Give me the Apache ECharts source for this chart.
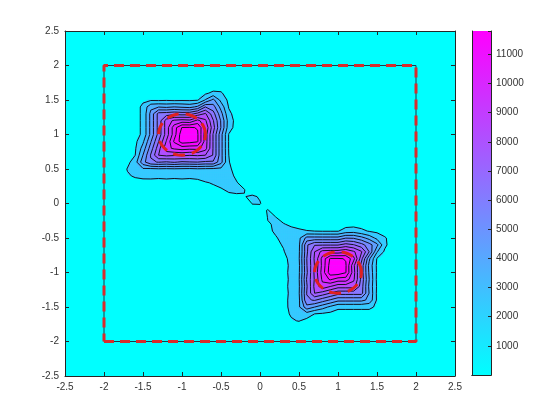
<!DOCTYPE html>
<html>
<head>
<meta charset="utf-8">
<script src="https://cdn.jsdelivr.net/npm/echarts@6/dist/echarts.min.js"></script>
<style>
html, body { margin: 0; padding: 0; background: #fff; }
#main { width: 560px; height: 420px; }
</style>
</head>
<body>
<div id="main"></div>
<script>
// density nodes every 0.1 on [-2, 2]
const STEP = 0.1;

// upper-left peak, x from -1.8 to -0.1, rows from y = 1.7 down to y = 0.1
const upperX0 = -1.8, upperYTop = 1.7;
const upperBlob = [
  [0, 0, 0, 0, 0, 0, 0, 0, 0, 0, 0, 0, 370, 590, 390, 50, 0, 0],
  [0, 220, 310, 310, 310, 310, 310, 310, 310, 310, 390, 800, 1250, 1100, 570, 230, 0, 0],
  [0, 220, 630, 840, 860, 820, 880, 800, 850, 830, 920, 2080, 3280, 1700, 780, 390, 0, 0],
  [0, 220, 630, 1200, 2750, 2950, 2800, 3000, 2850, 2700, 3200, 4990, 4420, 2630, 930, 510, 80, 0],
  [0, 220, 630, 1200, 3290, 5370, 5500, 5700, 5550, 5650, 6340, 7140, 5410, 3360, 1220, 600, 140, 0],
  [0, 220, 630, 1200, 3290, 5370, 7460, 8200, 8400, 8250, 9350, 8170, 6080, 3900, 1550, 630, 150, 0],
  [0, 220, 630, 1200, 3290, 5370, 7460, 9540, 11050, 11100, 10940, 8800, 6410, 3960, 1440, 590, 80, 0],
  [0, 220, 630, 1200, 3290, 5370, 7460, 9540, 11620, 11800, 11110, 8520, 5930, 3340, 950, 440, 0, 0],
  [0, 340, 750, 1810, 3900, 5980, 8070, 10150, 11520, 11400, 11110, 8520, 5930, 3340, 950, 440, 0, 0],
  [50, 460, 870, 2410, 4490, 6580, 8660, 9200, 9450, 9300, 9350, 8400, 5930, 3340, 950, 440, 0, 0],
  [170, 580, 990, 3020, 5100, 7000, 7250, 7100, 7200, 7050, 7150, 7000, 5930, 3340, 1000, 440, 0, 0],
  [290, 700, 1550, 3630, 4850, 5050, 4900, 5100, 4850, 4950, 5000, 4800, 4850, 3340, 1050, 500, 100, 0],
  [410, 1050, 1700, 1850, 1800, 1900, 1850, 1900, 1850, 1800, 1900, 1850, 1800, 1750, 1150, 700, 100, 0],
  [300, 900, 1100, 1150, 1200, 1150, 1200, 1150, 1200, 1150, 1200, 1300, 1350, 1350, 1250, 850, 400, 0],
  [100, 500, 700, 800, 750, 750, 750, 750, 750, 750, 800, 950, 1050, 1150, 1200, 1050, 700, 200],
  [0, 100, 300, 400, 450, 500, 550, 600, 650, 700, 750, 800, 850, 950, 1080, 1080, 1020, 700],
  [0, 0, 0, 100, 200, 300, 400, 450, 500, 550, 600, 650, 700, 800, 880, 940, 980, 1080]
];

// lower-right peak, x from 0.1 to 1.7, rows from y = -0.1 down to y = -1.8
const lowerX0 = 0.1, lowerYTop = -0.1;
const lowerBlob = [
  [1040, 700, 200, 0, 0, 0, 0, 0, 0, 0, 0, 0, 0, 0, 0, 0, 0],
  [1050, 1020, 700, 400, 100, 100, 0, 0, 0, 0, 80, 150, 140, 80, 0, 0, 0],
  [940, 1080, 1050, 850, 700, 500, 440, 440, 440, 440, 590, 630, 600, 510, 390, 230, 50],
  [880, 1080, 1200, 1250, 1150, 1050, 1000, 950, 950, 950, 1440, 1550, 1220, 930, 780, 570, 390],
  [800, 950, 1150, 1350, 1750, 3340, 3340, 3340, 3340, 3340, 3960, 3900, 3360, 2630, 1700, 1100, 590],
  [700, 850, 1050, 1350, 1800, 4850, 5930, 5930, 5930, 5930, 6410, 6080, 5410, 4420, 3280, 1250, 370],
  [650, 800, 950, 1300, 1850, 4800, 7000, 8400, 8520, 8520, 8800, 8170, 7140, 4990, 2080, 800, 0],
  [600, 750, 800, 1200, 1900, 5000, 7150, 9350, 11110, 11110, 10940, 9350, 6340, 3200, 920, 390, 0],
  [550, 700, 750, 1150, 1800, 4950, 7050, 9300, 11400, 11800, 11100, 8250, 5650, 2700, 830, 310, 0],
  [500, 650, 750, 1200, 1850, 4850, 7200, 9450, 11520, 11620, 11050, 8400, 5550, 2850, 850, 310, 0],
  [450, 600, 750, 1150, 1900, 5100, 7100, 9200, 10150, 9540, 9540, 8200, 5700, 3000, 800, 310, 0],
  [400, 550, 750, 1200, 1850, 4900, 7250, 8660, 8070, 7460, 7460, 7460, 5500, 2800, 880, 310, 0],
  [300, 500, 750, 1150, 1900, 5050, 7000, 6580, 5980, 5370, 5370, 5370, 5370, 2950, 820, 310, 0],
  [200, 450, 750, 1200, 1800, 4850, 5100, 4490, 3900, 3290, 3290, 3290, 3290, 2750, 860, 310, 0],
  [100, 400, 800, 1150, 1850, 3630, 3020, 2410, 1810, 1200, 1200, 1200, 1200, 1200, 840, 310, 0],
  [0, 300, 700, 1100, 1700, 1550, 990, 870, 750, 630, 630, 630, 630, 630, 630, 310, 0],
  [0, 100, 500, 900, 1050, 700, 580, 460, 340, 220, 220, 220, 220, 220, 220, 220, 0],
  [0, 0, 100, 300, 410, 290, 170, 50, 0, 0, 0, 0, 0, 0, 0, 0, 0]
];

// small island between the peaks, x from -0.1 to 0.1, rows from y = 0.1 down to y = -0.1
const bridgeX0 = -0.1, bridgeYTop = 0.1;
const bridge = [
  [0, 950, 400],
  [1050, 1030, 700],
  [500, 800, 0]
];

const contourLevels = [1000, 2000, 3000, 4000, 5000, 6000, 7000, 8000, 9000, 10000, 11000];
const colorMax = 11800;

// dashed square and the two rings
const boxX = [-2, 2, 2, -2, -2];
const boxY = [-2, -2, 2, 2, -2];
const ringX = [-1, 1];
const ringY = [1, -1];
const ringR = [0.3, 0.3];

// ---- build the node grid ----
const N = 41;
const G = [];
for (let i = 0; i < N; i++) G.push(new Array(N).fill(0));
function addPatch(rows, x0, yTop) {
  rows.forEach(function (row, r) {
    row.forEach(function (v, c) {
      const i = Math.round((yTop - r * STEP + 2) / STEP);
      const j = Math.round((x0 + c * STEP + 2) / STEP);
      G[i][j] += v;
    });
  });
}
addPatch(upperBlob, upperX0, upperYTop);
addPatch(lowerBlob, lowerX0, lowerYTop);
addPatch(bridge, bridgeX0, bridgeYTop);

function sample(x, y) {
  const fx = (x + 2) / STEP, fy = (y + 2) / STEP;
  if (fx < 0 || fy < 0 || fx > N - 1 || fy > N - 1) return 0;
  const j = Math.min(N - 2, Math.floor(fx)), i = Math.min(N - 2, Math.floor(fy));
  const tx = fx - j, ty = fy - i;
  return (G[i][j] * (1 - tx) + G[i][j + 1] * tx) * (1 - ty) +
         (G[i + 1][j] * (1 - tx) + G[i + 1][j + 1] * tx) * ty;
}

// filled bands: each band takes a tone a little above its upper level
function bandTone(v) {
  let k = 0;
  contourLevels.forEach(function (lv) { if (v >= lv) k++; });
  if (k === 0) return 0;
  return k < contourLevels.length ? contourLevels[k] + 500 : colorMax;
}

const CELLS = 200;
const cellIdx = [];
for (let k = 0; k < CELLS; k++) cellIdx.push(k);
const heatData = [];
for (let a = 0; a < CELLS; a++) {
  for (let b = 0; b < CELLS; b++) {
    const x = -2.5 + (a + 0.5) * 5 / CELLS;
    const y = -2.5 + (b + 0.5) * 5 / CELLS;
    const tone = bandTone(sample(x, y));
    if (tone > 0) heatData.push([a, b, tone]);
  }
}

// ---- marching squares ----
function traceLevel(level) {
  const pt = {};
  const segs = [];
  function cross(key, x1, y1, v1, x2, y2, v2) {
    const t = (level - v1) / (v2 - v1);
    pt[key] = [x1 + (x2 - x1) * t, y1 + (y2 - y1) * t];
    return key;
  }
  for (let i = 0; i < N - 1; i++) {
    for (let j = 0; j < N - 1; j++) {
      const a = G[i][j], b = G[i][j + 1], c = G[i + 1][j + 1], d = G[i + 1][j];
      const ha = a >= level, hb = b >= level, hc = c >= level, hd = d >= level;
      if (ha === hb && hb === hc && hc === hd) continue;
      const x0 = -2 + j * STEP, x1 = x0 + STEP, y0 = -2 + i * STEP, y1 = y0 + STEP;
      const bottom = ha !== hb ? cross('h' + i + '_' + j, x0, y0, a, x1, y0, b) : null;
      const right = hb !== hc ? cross('v' + i + '_' + (j + 1), x1, y0, b, x1, y1, c) : null;
      const top = hd !== hc ? cross('h' + (i + 1) + '_' + j, x0, y1, d, x1, y1, c) : null;
      const left = ha !== hd ? cross('v' + i + '_' + j, x0, y0, a, x0, y1, d) : null;
      const list = [bottom, right, top, left].filter(function (e) { return e !== null; });
      if (list.length === 2) {
        segs.push(list);
      } else if (list.length === 4) {
        const centreHigh = (a + b + c + d) / 4 >= level;
        if (ha === centreHigh) {
          segs.push([bottom, right]); segs.push([top, left]);
        } else {
          segs.push([left, bottom]); segs.push([right, top]);
        }
      }
    }
  }
  // join segments into polylines
  const adj = {};
  segs.forEach(function (s, k) {
    s.forEach(function (key) { (adj[key] = adj[key] || []).push(k); });
  });
  const used = new Array(segs.length).fill(false);
  const chains = [];
  for (let k = 0; k < segs.length; k++) {
    if (used[k]) continue;
    used[k] = true;
    const keys = [segs[k][0], segs[k][1]];
    const extend = function () {
      while (true) {
        const last = keys[keys.length - 1];
        const next = (adj[last] || []).find(function (n) { return !used[n]; });
        if (next === undefined) break;
        used[next] = true;
        const s = segs[next];
        keys.push(s[0] === last ? s[1] : s[0]);
      }
    };
    extend();
    keys.reverse();
    extend();
    chains.push(keys.map(function (key) { return pt[key]; }));
  }
  return chains;
}

let contourChains = [];
contourLevels.forEach(function (lv) { contourChains = contourChains.concat(traceLevel(lv)); });
const contourItems = contourChains.map(function (c, k) { return [c[0][0], c[0][1], k]; });

const labelFont = "'Liberation Sans', Arial, sans-serif";
const axisColor = '#262626';

function valueAxis(grid, pos, showLabel) {
  return {
    type: 'value', gridIndex: grid, position: pos,
    min: -2.5, max: 2.5, interval: 0.5,
    axisLine: { show: true, onZero: false, lineStyle: { color: axisColor, width: 1 } },
    axisTick: { show: true, inside: true, length: 4, lineStyle: { color: axisColor } },
    axisLabel: { show: showLabel, color: '#333', fontSize: 10, fontFamily: labelFont, margin: 6 },
    splitLine: { show: false },
    z: 10
  };
}

const option = {
  animation: false,
  backgroundColor: '#ffffff',
  grid: [
    { left: 65, top: 31, width: 390, height: 345, show: true, backgroundColor: '#00ffff', borderWidth: 0 },
    { left: 65, top: 31, width: 390, height: 345 },
    { left: 472, top: 31, width: 19, height: 344 }
  ],
  xAxis: [
    { type: 'category', gridIndex: 0, data: cellIdx, show: false },
    valueAxis(1, 'bottom', true),
    valueAxis(1, 'top', false),
    { type: 'category', gridIndex: 2, data: ['c'], position: 'bottom',
      axisLine: { show: true, lineStyle: { color: axisColor } }, axisTick: { show: false }, axisLabel: { show: false }, z: 10 },
    { type: 'category', gridIndex: 2, data: ['c'], position: 'top',
      axisLine: { show: true, lineStyle: { color: axisColor } }, axisTick: { show: false }, axisLabel: { show: false }, z: 10 }
  ],
  yAxis: [
    { type: 'category', gridIndex: 0, data: cellIdx, show: false },
    valueAxis(1, 'left', true),
    valueAxis(1, 'right', false),
    { type: 'value', gridIndex: 2, position: 'right', min: 0, max: colorMax, interval: 1000,
      axisLine: { show: true, onZero: false, lineStyle: { color: axisColor } },
      axisTick: { show: true, inside: true, length: 3, lineStyle: { color: axisColor } },
      axisLabel: { color: '#333', fontSize: 10, fontFamily: labelFont, margin: 5,
        formatter: function (v) { return v >= 1000 && v <= 11000 ? String(v) : ''; } },
      splitLine: { show: false }, z: 10 },
    { type: 'value', gridIndex: 2, position: 'left', min: 0, max: colorMax,
      axisLine: { show: true, onZero: false, lineStyle: { color: axisColor } },
      axisTick: { show: false }, axisLabel: { show: false }, splitLine: { show: false }, z: 10 }
  ],
  visualMap: [{
    type: 'continuous', show: false, seriesIndex: 0, dimension: 2,
    min: 0, max: colorMax, inRange: { color: ['#00ffff', '#ff00ff'] }
  }],
  series: [
    {
      type: 'heatmap', xAxisIndex: 0, yAxisIndex: 0, data: heatData,
      progressive: 0, silent: true, emphasis: { disabled: true }, z: 1
    },
    {
      type: 'custom', xAxisIndex: 1, yAxisIndex: 1, data: contourItems, silent: true, z: 3,
      encode: { x: 0, y: 1 },
      renderItem: function (params, api) {
        const chain = contourChains[params.dataIndex];
        return {
          type: 'polyline',
          shape: { points: chain.map(function (p) { return api.coord(p); }) },
          style: { stroke: '#111122', lineWidth: 1, fill: 'none' }
        };
      }
    },
    {
      type: 'line', xAxisIndex: 1, yAxisIndex: 1, symbol: 'none', silent: true, z: 4,
      data: boxX.map(function (x, k) { return [x, boxY[k]]; }),
      lineStyle: { color: '#1d3a48', width: 1 }
    },
    {
      type: 'line', xAxisIndex: 1, yAxisIndex: 1, symbol: 'none', silent: true, z: 5,
      data: boxX.map(function (x, k) { return [x, boxY[k]]; }),
      lineStyle: { color: '#d92b2b', width: 3, type: [10, 6] }
    },
    {
      type: 'custom', xAxisIndex: 1, yAxisIndex: 1, silent: true, z: 6,
      data: ringX.map(function (x, k) { return [x, ringY[k], ringR[k]]; }),
      encode: { x: 0, y: 1 },
      renderItem: function (params, api) {
        const cx = api.value(0), cy = api.value(1), r = api.value(2);
        const pts = [];
        for (let k = 0; k <= 72; k++) {
          const t = k / 72 * Math.PI * 2;
          pts.push(api.coord([cx + r * Math.cos(t), cy + r * Math.sin(t)]));
        }
        return {
          type: 'polyline',
          shape: { points: pts },
          style: { stroke: '#e02020', lineWidth: 3, fill: 'none', lineDash: [12, 7] }
        };
      }
    },
    {
      type: 'bar', xAxisIndex: 3, yAxisIndex: 3, data: [colorMax], barWidth: '100%', silent: true,
      itemStyle: {
        color: { type: 'linear', x: 0, y: 1, x2: 0, y2: 0,
          colorStops: [{ offset: 0, color: '#00ffff' }, { offset: 1, color: '#ff00ff' }] }
      }
    }
  ]
};

const chart = echarts.init(document.getElementById('main'));
chart.setOption(option);
</script>
</body>
</html>
